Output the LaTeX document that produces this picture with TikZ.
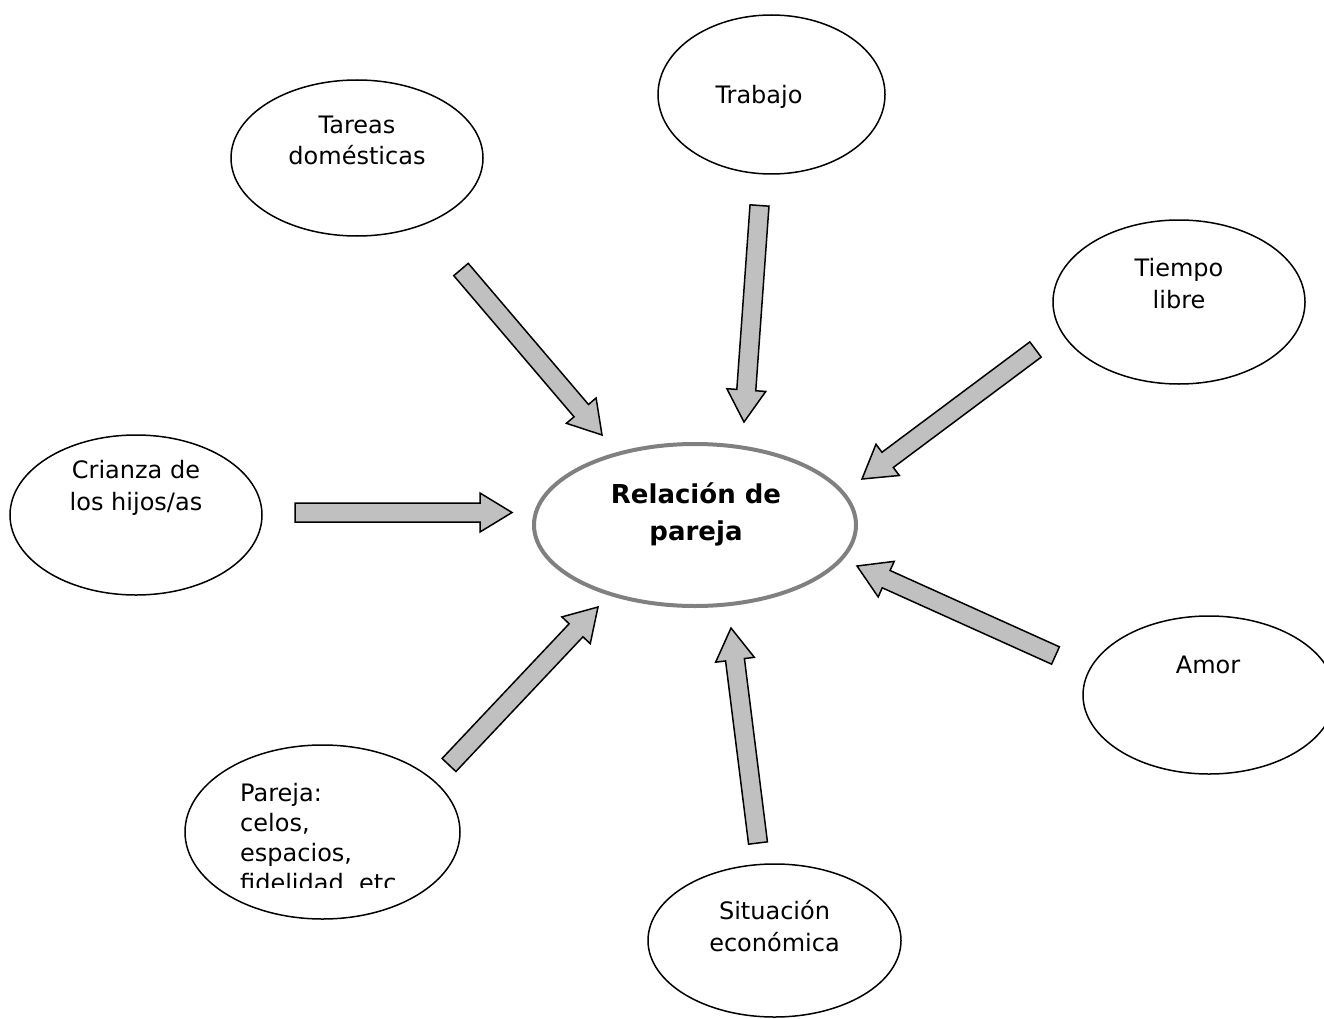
\documentclass[tikz,border=0pt]{standalone}
\usepackage{fontspec}
\setmainfont{DejaVu Sans}
\usetikzlibrary{calc,shapes.geometric}
\definecolor{arrfill}{HTML}{C0C0C0}
\definecolor{ringgray}{HTML}{808080}
\tikzset{
  bubble/.style={draw=black, line width=1.5pt, ellipse, inner sep=0pt, fill=white},
  centerbubble/.style={draw=ringgray, line width=4pt, ellipse, inner sep=0pt, fill=white},
  lbl/.style={anchor=base, align=center, inner sep=0pt, font=\fontsize{24}{32}\selectfont},
  lbleft/.style={anchor=base west, align=left, inner sep=0pt, font=\fontsize{24}{30}\selectfont},
  centerlbl/.style={anchor=base, align=center, inner sep=0pt, font=\fontsize{26}{37}\selectfont\bfseries},
  blockarr/.style={draw=black, line width=1.5pt, fill=arrfill, line join=miter}
}
\newcommand\blockarrow[2]{%
  \coordinate (hb) at ($(#2)!32pt!(#1)$);
  \draw[blockarr] ($(#1)!9.5pt!90:(#2)$) -- ($(hb)!9.5pt!90:(#2)$) -- ($(hb)!19.5pt!90:(#2)$) -- (#2) -- ($(hb)!19.5pt!-90:(#2)$) -- ($(hb)!9.5pt!-90:(#2)$) -- ($(#1)!9.5pt!-90:(#2)$) -- cycle;
}
\begin{document}
\begin{tikzpicture}[x=1pt, y=-1pt]
\clip (0,0) rectangle (1324,1019);
\fill[white] (0,0) rectangle (1324,1019);

% ellipses
\node[bubble, minimum width=227pt, minimum height=159pt] (trabajo) at (771.5,94.5) {};
\node[bubble, minimum width=252pt, minimum height=156pt] (tareas) at (357,158) {};
\node[bubble, minimum width=252pt, minimum height=164pt] (tiempo) at (1179,302) {};
\node[bubble, minimum width=252pt, minimum height=160pt] (crianza) at (136,515) {};
\node[centerbubble, minimum width=322pt, minimum height=162pt] (relacion) at (695,525) {};
\node[bubble, minimum width=252pt, minimum height=158pt] (amor) at (1209,695) {};
\node[bubble, minimum width=275pt, minimum height=174pt] (pareja) at (322.5,832) {};
\node[bubble, minimum width=253pt, minimum height=153pt] (situacion) at (774.5,940.5) {};

% texts (anchored at the baseline of the last line)
\node[lbl] (ttrabajo) at (759,104) {Trabajo};
\node[lbl] (ttareas) at (357,165) {Tareas\\domésticas};
\node[lbl] (ttiempo) at (1179,308) {Tiempo\\libre};
\node[lbl] (tcrianza) at (136,510) {Crianza de\\los hijos/as};
\node[lbl] (tamor) at (1208,673) {Amor};
\node[lbl] (tsituacion) at (774.5,951) {Situación\\económica};
\node[centerlbl] (trelacion) at (696,540) {Relación de\\pareja};
\begin{scope}
  \clip (200,760) rectangle (450,887);
  \node[lbleft] (tpareja) at (240,891.7) {Pareja:\\celos,\\espacios,\\fidelidad, etc};
\end{scope}

% arrow end points
\coordinate (a1) at (461,269.5);   \coordinate (b1) at (602,435);
\coordinate (a2) at (759.5,205.5); \coordinate (b2) at (744,422);
\coordinate (a3) at (1035.5,349.5);\coordinate (b3) at (862,479);
\coordinate (a4) at (295,512.5);   \coordinate (b4) at (512,512.5);
\coordinate (a5) at (1055.5,655.5);\coordinate (b5) at (857,566);
\coordinate (a6) at (758,843);     \coordinate (b6) at (731,628);
\coordinate (a7) at (449,765);     \coordinate (b7) at (598,607);

\blockarrow{a1}{b1}
\blockarrow{a2}{b2}
\blockarrow{a3}{b3}
\blockarrow{a4}{b4}
\blockarrow{a5}{b5}
\blockarrow{a6}{b6}
\blockarrow{a7}{b7}
\end{tikzpicture}
\end{document}
